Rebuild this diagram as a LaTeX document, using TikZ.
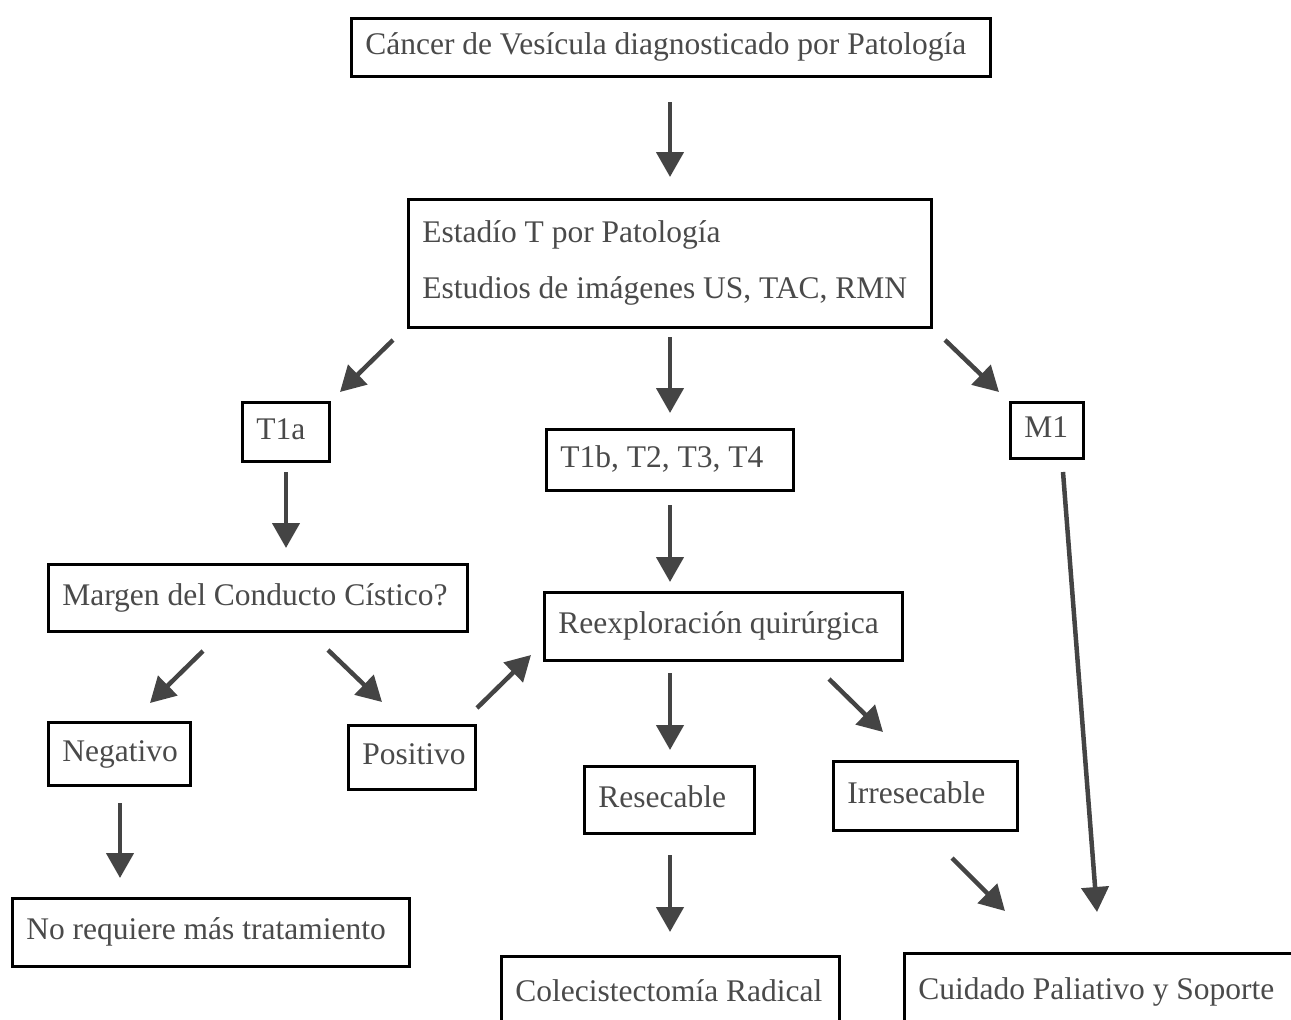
\documentclass[tikz,border=0pt]{standalone}
\usepackage{fontspec}
\setmainfont{Liberation Serif}
\usetikzlibrary{arrows.meta}
\definecolor{inkgrey}{HTML}{4A4A4A}
\definecolor{arrowgrey}{HTML}{444444}

% one unbroken line of box text, on a strut that sets its height and depth
\newcommand\boxstrut{\rule[-20.8pt]{0pt}{56pt}}
\newcommand\boxline[1]{\makebox[0pt][l]{\boxstrut#1}}

% box given by its corners (x1,y1)-(x2,y2), text set flush left
\newcommand\flowbox[6]{%
  \pgfmathsetlengthmacro\boxtw{(#4)-(#2)-30}%
  \pgfmathsetlengthmacro\boxht{(#5)-(#3)}%
  \node[box, text width=\boxtw, minimum height=\boxht] (#1) at (#2,#3) {#6};}

\begin{document}
\begin{tikzpicture}[x=1pt,y=-1pt,
  box/.style={draw=black, line width=2.6pt, fill=white, text=inkgrey,
    font=\fontsize{31.5}{56}\selectfont, align=flush left,
    inner xsep=14pt, inner ysep=0pt, anchor=north west},
  flow/.style={draw=arrowgrey, fill=arrowgrey, line width=4.5pt,
    -{Triangle[length=25pt,width=27pt]}}]
\useasboundingbox (0,0) rectangle (1291,1020);
\clip (0,0) rectangle (1291,1020);

% boxes
\flowbox{dx}{350}{17}{991}{75}{\boxline{Cáncer de Vesícula diagnosticado por Patología}}
\flowbox{est}{407}{198}{932}{326}{\boxline{Estadío T por Patología}\\\boxline{Estudios de imágenes US, TAC, RMN}}
\flowbox{tone}{241}{401}{330}{460}{\boxline{T1a}}
\flowbox{tb}{545}{428}{794}{489}{\boxline{T1b, T2, T3, T4}}
\flowbox{mone}{1009}{401}{1084}{457}{\boxline{M1}}
\flowbox{marg}{47}{563}{468}{630}{\boxline{Margen del Conducto Cístico?}}
\flowbox{reex}{543}{591}{903}{659}{\boxline{Reexploración quirúrgica}}
\flowbox{neg}{47}{721}{191}{784}{\boxline{Negativo}}
\flowbox{pos}{347}{724}{476}{788}{\boxline{Positivo}}
\flowbox{res}{583}{765}{755}{832}{\boxline{Resecable}}
\flowbox{irr}{832}{760}{1018}{829}{\boxline{Irresecable}}
\flowbox{noreq}{11}{897}{410}{965}{\boxline{No requiere más tratamiento}}
\flowbox{colec}{500}{955}{840}{1030}{\boxline{Colecistectomía Radical}}
\flowbox{pal}{903}{952}{1320}{1030}{\boxline{Cuidado Paliativo y Soporte}}

% arrow ends, set apart from the boxes they join
\coordinate (dx-est-a) at (670,102);   \coordinate (dx-est-b) at (670,177);
\coordinate (est-t1a-a) at (393,340);  \coordinate (est-t1a-b) at (340,392);
\coordinate (est-tb-a) at (670,337);   \coordinate (est-tb-b) at (670,413);
\coordinate (est-m1-a) at (945,340);   \coordinate (est-m1-b) at (999,392);
\coordinate (t1a-marg-a) at (286,472); \coordinate (t1a-marg-b) at (286,548);
\coordinate (tb-reex-a) at (670,505);  \coordinate (tb-reex-b) at (670,582);
\coordinate (m1-pal-a) at (1063,472);  \coordinate (m1-pal-b) at (1097,912);
\coordinate (marg-neg-a) at (203,651); \coordinate (marg-neg-b) at (150,703);
\coordinate (marg-pos-a) at (328,650); \coordinate (marg-pos-b) at (382,702);
\coordinate (pos-reex-a) at (477,708); \coordinate (pos-reex-b) at (531,655);
\coordinate (reex-res-a) at (670,673); \coordinate (reex-res-b) at (670,750);
\coordinate (reex-irr-a) at (829,679); \coordinate (reex-irr-b) at (883,732);
\coordinate (neg-no-a) at (120,803);   \coordinate (neg-no-b) at (120,878);
\coordinate (res-col-a) at (670,855);  \coordinate (res-col-b) at (670,932);
\coordinate (irr-pal-a) at (952,858);  \coordinate (irr-pal-b) at (1005,911);

% arrows
\foreach \s/\e in {dx-est-a/dx-est-b, est-t1a-a/est-t1a-b, est-tb-a/est-tb-b,
    est-m1-a/est-m1-b, t1a-marg-a/t1a-marg-b, tb-reex-a/tb-reex-b,
    m1-pal-a/m1-pal-b, marg-neg-a/marg-neg-b, marg-pos-a/marg-pos-b,
    pos-reex-a/pos-reex-b, reex-res-a/reex-res-b, reex-irr-a/reex-irr-b,
    neg-no-a/neg-no-b, res-col-a/res-col-b, irr-pal-a/irr-pal-b}
  \draw[flow] (\s) -- (\e);
\end{tikzpicture}
\end{document}
